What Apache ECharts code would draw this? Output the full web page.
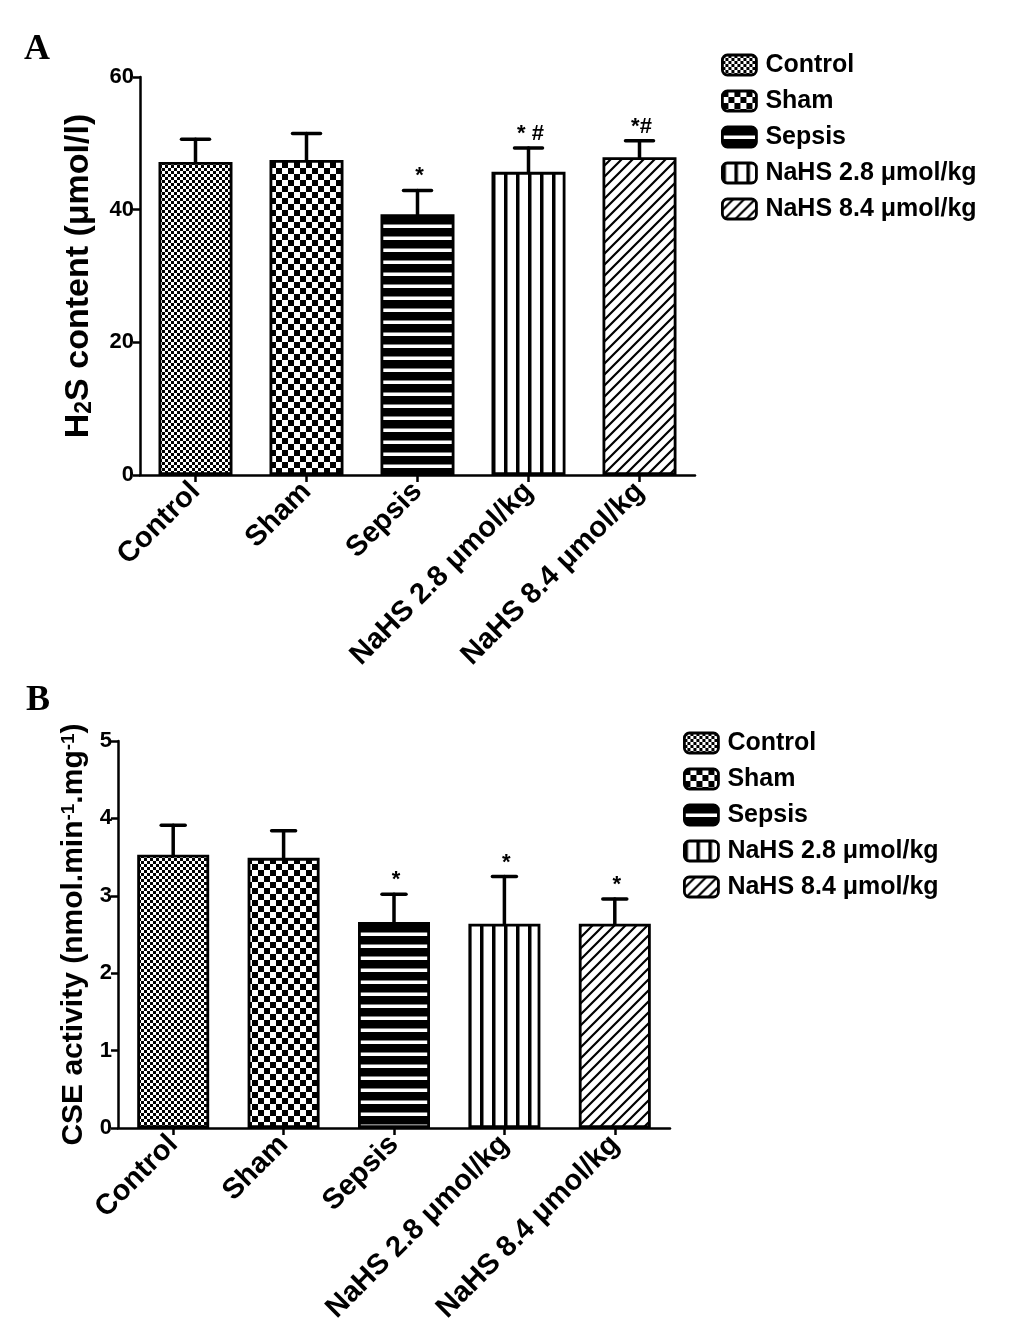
<!DOCTYPE html>
<html>
<head>
<meta charset="utf-8">
<script src="https://cdn.jsdelivr.net/npm/echarts@6/dist/echarts.min.js"></script>
<style>
html,body{margin:0;padding:0;background:#fff;}
#chart{width:1033px;height:1334px;}
</style>
</head>
<body>
<div id="chart"></div>
<script>
// ---------------- data ----------------
const categories = ['Control', 'Sham', 'Sepsis', 'NaHS 2.8 μmol/kg', 'NaHS 8.4 μmol/kg'];
const h2sMean = [47.2, 47.5, 39.3, 45.7, 47.9];
const h2sErr  = [3.4, 4.0, 3.6, 3.6, 2.5];
const h2sSig  = ['', '', '*', '* #', '*#'];
const cseMean = [3.53, 3.49, 2.66, 2.64, 2.64];
const cseErr  = [0.38, 0.35, 0.36, 0.61, 0.32];
const cseSig  = ['', '', '*', '*', '*'];
const h2sTicks = [0, 20, 40, 60];
const cseTicks = [0, 1, 2, 3, 4, 5];

// ---------------- patterns ----------------
function mk(w, h, draw) {
  const c = document.createElement('canvas');
  c.width = w; c.height = h;
  const g = c.getContext('2d');
  g.fillStyle = '#fff'; g.fillRect(0, 0, w, h);
  g.fillStyle = '#000'; g.strokeStyle = '#000';
  draw(g, w, h);
  return { image: c, repeat: 'repeat' };
}
const patterns = [
  mk(6, 6, (g) => { g.fillRect(0, 0, 3, 3); g.fillRect(3, 3, 3, 3); }),
  mk(12, 12, (g) => { g.fillRect(0, 0, 6, 6); g.fillRect(6, 6, 6, 6); }),
  mk(4, 12, (g) => { g.fillRect(0, 0, 4, 8.5); }),
  mk(12, 4, (g) => { g.fillRect(0, 0, 3.5, 4); }),
  mk(11, 11, (g, w, h) => {
    g.lineWidth = 2.2;
    g.beginPath();
    g.moveTo(-2, h + 2); g.lineTo(w + 2, -2);
    g.moveTo(-2, 2); g.lineTo(2, -2);
    g.moveTo(w - 2, h + 2); g.lineTo(w + 2, h - 2);
    g.stroke();
  })
];

const FONT = 'Liberation Sans, Arial, sans-serif';

function barSeries(meanArr, axisIdx, width) {
  return categories.map((name, i) => ({
    name: name,
    type: 'bar',
    xAxisIndex: axisIdx,
    yAxisIndex: axisIdx,
    barWidth: width,
    barGap: '-100%',
    data: categories.map((c, j) => (j === i ? meanArr[j] : '-')),
    itemStyle: { color: patterns[i], borderColor: '#000', borderWidth: 2.8 },
    emphasis: { disabled: true },
    animation: false
  }));
}

function errSeries(meanArr, errArr, sigArr, axisIdx, capHalf) {
  return {
    type: 'custom',
    name: 'err' + axisIdx,
    xAxisIndex: axisIdx,
    yAxisIndex: axisIdx,
    animation: false,
    silent: true,
    z: 5,
    data: categories.map((c, i) => [i, meanArr[i], errArr[i], sigArr[i]]),
    renderItem: function (params, api) {
      const i = api.value(0), m = api.value(1), e = api.value(2);
      const base = api.coord([i, m]);
      const top = api.coord([i, m + e]);
      const sig = sigArr[params.dataIndex];
      const style = { stroke: '#000', lineWidth: 3.5, lineCap: 'round' };
      const children = [
        { type: 'line', shape: { x1: base[0], y1: base[1], x2: top[0], y2: top[1] }, style: style },
        { type: 'line', shape: { x1: top[0] - capHalf, y1: top[1], x2: top[0] + capHalf, y2: top[1] }, style: style }
      ];
      if (sig) {
        children.push({
          type: 'text',
          style: {
            text: sig, x: top[0] + 2, y: top[1] - 3,
            textAlign: 'center', textVerticalAlign: 'bottom',
            font: 'bold 22px ' + FONT, fill: '#000'
          }
        });
      }
      return { type: 'group', children: children };
    }
  };
}

function legend(left, top) {
  return {
    orient: 'vertical',
    left: left, top: top,
    itemWidth: 34, itemHeight: 20, itemGap: 10,
    selectedMode: false,
    data: categories.map((n) => ({ name: n, icon: 'roundRect' })),
    textStyle: { fontFamily: FONT, fontWeight: 'bold', fontSize: 25, lineHeight: 26, color: '#000', padding: [0, 0, 0, 4] },
    itemStyle: { borderColor: '#000', borderWidth: 2.8 }
  };
}

const axisLine = { show: true, lineStyle: { color: '#000', width: 2.5 } };
const axisTick = { show: true, length: 7, lineStyle: { color: '#000', width: 2.5 } };

const option = {
  backgroundColor: '#fff',
  animation: false,
  graphic: [
    { type: 'text', left: 24, top: 32, style: { text: 'A', font: 'bold 36px Liberation Serif, serif', fill: '#000' } },
    { type: 'text', left: 26, top: 683, style: { text: 'B', font: 'bold 36px Liberation Serif, serif', fill: '#000' } }
  ],
  legend: [legend(716, 47), legend(678, 725)],
  grid: [
    { left: 140, top: 77, width: 555, height: 398 },
    { left: 118, top: 741, width: 552, height: 387 }
  ],
  xAxis: [0, 1].map((k) => ({
    type: 'category',
    gridIndex: k,
    data: categories,
    axisLine: axisLine,
    axisTick: { show: true, alignWithLabel: true, length: 7, lineStyle: { color: '#000', width: 2.5 } },
    axisLabel: { rotate: 45, margin: 12, interval: 0, fontFamily: FONT, fontWeight: 'bold', fontSize: 29, color: '#000' },
    splitLine: { show: false }
  })),
  yAxis: [
    {
      type: 'value', gridIndex: 0, min: h2sTicks[0], max: h2sTicks[h2sTicks.length - 1], interval: 20,
      axisLine: axisLine, axisTick: axisTick, splitLine: { show: false },
      axisLabel: { fontFamily: FONT, fontWeight: 'bold', fontSize: 22, color: '#000', margin: 6 },
      name: 'H{sub|2}S content (μmol/l)',
      nameLocation: 'middle', nameGap: 44, nameRotate: 90,
      nameTextStyle: {
        fontFamily: FONT, fontWeight: 'bold', fontSize: 34, color: '#000',
        rich: { sub: { fontFamily: FONT, fontWeight: 'bold', fontSize: 23, color: '#000', verticalAlign: 'bottom', padding: [12, 0, 0, 0] } }
      }
    },
    {
      type: 'value', gridIndex: 1, min: cseTicks[0], max: cseTicks[cseTicks.length - 1], interval: 1,
      axisLine: axisLine, axisTick: axisTick, splitLine: { show: false },
      axisLabel: { fontFamily: FONT, fontWeight: 'bold', fontSize: 22, color: '#000', margin: 6 },
      name: 'CSE activity (nmol.min{sup|-1}.mg{sup|-1})',
      nameLocation: 'middle', nameGap: 29, nameRotate: 90,
      nameTextStyle: {
        fontFamily: FONT, fontWeight: 'bold', fontSize: 30, color: '#000',
        rich: { sup: { fontFamily: FONT, fontWeight: 'bold', fontSize: 19, color: '#000', verticalAlign: 'top', padding: [0, 0, 10, 0] } }
      }
    }
  ],
  series: [].concat(
    barSeries(h2sMean, 0, 74),
    barSeries(cseMean, 1, 72),
    [errSeries(h2sMean, h2sErr, h2sSig, 0, 14), errSeries(cseMean, cseErr, cseSig, 1, 12)]
  )
};

const chart = echarts.init(document.getElementById('chart'), null, { renderer: 'canvas' });
chart.setOption(option);
</script>
</body>
</html>
